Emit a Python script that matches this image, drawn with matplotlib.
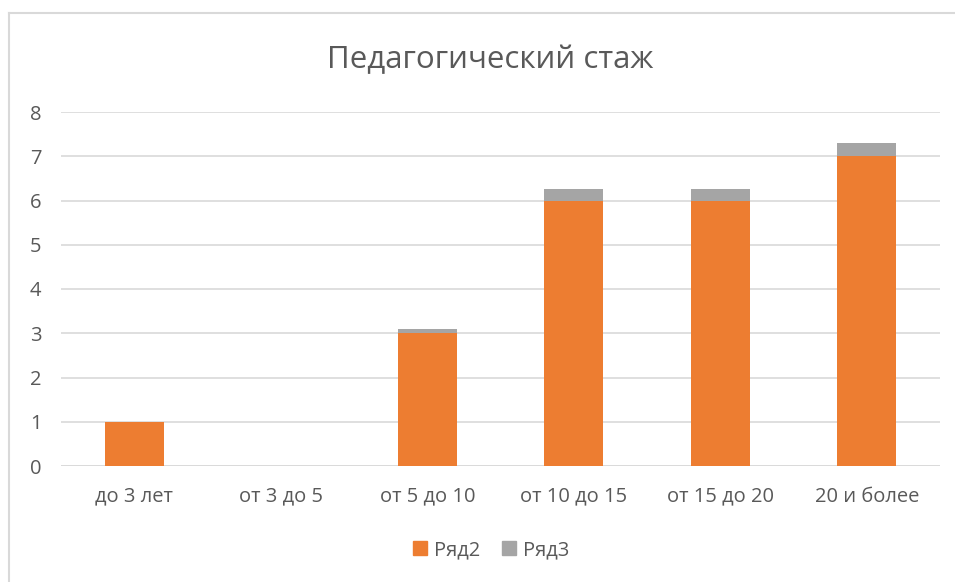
import numpy as np
import matplotlib.pyplot as plt
from matplotlib.lines import Line2D

# Chart data
categories = ['до 3 лет', 'от 3 до 5', 'от 5 до 10', 'от 10 до 15', 'от 15 до 20', '20 и более']
series_names = ['Ряд2', 'Ряд3']
row2 = [1, 0, 3, 6, 6, 7]
row3 = [0, 0, 0.1, 0.25, 0.25, 0.3]
colors = ['#ED7D31', '#A5A5A5']

plt.rcParams['font.family'] = ['Open Sans', 'DejaVu Sans']
text_color = '#595959'

fig = plt.figure(figsize=(9.55, 5.82), dpi=100)
ax = fig.add_axes([61 / 955, 1 - 466 / 582, (940 - 61) / 955, (466 - 112) / 582])

x = np.arange(len(categories))
ax.bar(x, row2, width=0.4, color=colors[0], zorder=3)
ax.bar(x, row3, width=0.4, bottom=row2, color=colors[1], zorder=3)

ax.set_xlim(-0.5, len(categories) - 0.5)
ax.set_ylim(0, 8)
ax.set_yticks(range(0, 9))
ax.set_xticks(x)
ax.set_xticklabels(categories)
ax.tick_params(axis='both', length=0, labelsize=14.5, colors=text_color)
ax.tick_params(axis='x', pad=15)
ax.tick_params(axis='y', pad=14)
ax.grid(axis='y', color='#D9D9D9', linewidth=1.2, zorder=0)
for s in ax.spines.values():
    s.set_visible(False)
ax.axhline(0, color='#D9D9D9', linewidth=1.2, zorder=2)

fig.text(0.513, 1 - 60 / 582, 'Педагогический стаж', ha='center', va='center',
         fontsize=22.5, color=text_color)

handles = [Line2D([], [], marker='s', linestyle='', markersize=10, color=c) for c in colors]
fig.legend(handles, series_names, loc='center', bbox_to_anchor=(0.514, 1 - 550 / 582),
           ncol=2, frameon=False, fontsize=14.5, labelcolor=text_color,
           handlelength=0.8, handletextpad=0.3, columnspacing=1.0)

# chart frame (top and left edges visible in the screenshot)
fig.add_artist(Line2D([9 / 955, 1], [1 - 13 / 582, 1 - 13 / 582], color='#D9D9D9', linewidth=1.5))
fig.add_artist(Line2D([9 / 955, 9 / 955], [0, 1 - 13 / 582], color='#D9D9D9', linewidth=1.5))

fig.savefig('out.png', dpi=100)
